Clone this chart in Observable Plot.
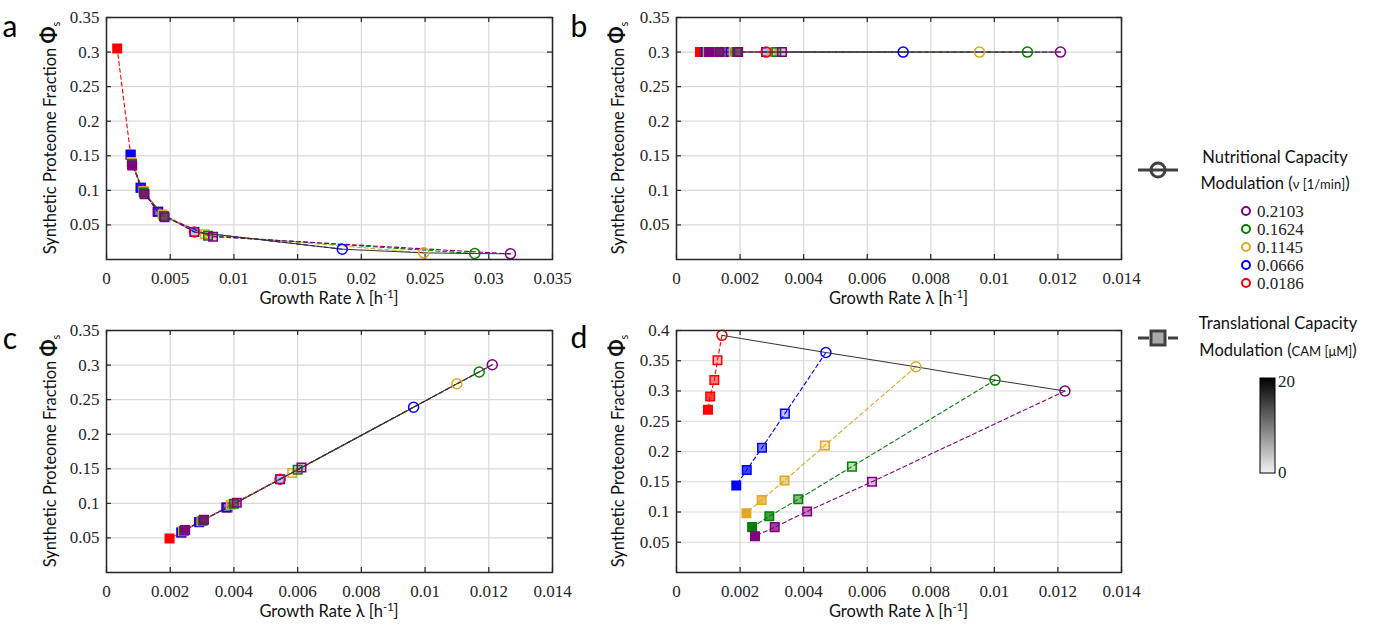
<!DOCTYPE html>
<html><head><meta charset="utf-8">
<script src="https://cdn.jsdelivr.net/npm/d3@7"></script>
<script src="https://cdn.jsdelivr.net/npm/@observablehq/plot@0.6"></script>
<style>
body{margin:0;background:#fff;}
#root{position:relative;width:1381px;height:628px;overflow:hidden;background:#fff;}
#root svg{position:absolute;}
</style></head><body><div id="root"></div>
<script>
// ---------- data ----------
const nutrientLabels = ["0.0186","0.0666","0.1145","0.1624","0.2103"];
const nutrientColors = ["#ff0000","#0000ff","#e3a822","#008000","#800080"];
const camLevels = [0,5,10,15,20];
const camRange = [0,20];

// panel a  (rows: nutrient; cols: CAM level)
const aLambda = [
 [0.0069,0.0040,0.0027,0.0019,0.00084],
 [0.0185,0.0069,0.00406,0.00267,0.00189],
 [0.0249,0.0077,0.0044,0.0029,0.00197],
 [0.0289,0.00797,0.0045,0.00293,0.0020],
 [0.0317,0.00836,0.00456,0.00299,0.00202]];
const aPhi = [
 [0.0398,0.069,0.1036,0.151,0.305],
 [0.0149,0.0398,0.069,0.1036,0.1517],
 [0.0096,0.0364,0.065,0.099,0.141],
 [0.0086,0.0344,0.063,0.097,0.138],
 [0.0082,0.033,0.061,0.0945,0.136]];
// panel b
const bLambda = [
 [0.00282,0.0017,0.0012,0.00095,0.00074],
 [0.00713,0.00282,0.0017,0.0012,0.00092],
 [0.00953,0.0030,0.0018,0.0013,0.00098],
 [0.01104,0.00314,0.0019,0.00135,0.00102],
 [0.01208,0.00332,0.00194,0.00136,0.00103]];
const bPhi = [
 [0.3,0.3,0.3,0.3,0.3],
 [0.3,0.3,0.3,0.3,0.3],
 [0.3,0.3,0.3,0.3,0.3],
 [0.3,0.3,0.3,0.3,0.3],
 [0.3,0.3,0.3,0.3,0.3]];
// panel c
const cLambda = [
 [0.00545,0.0038,0.0029,0.00235,0.00198],
 [0.00964,0.00545,0.00376,0.00291,0.00235],
 [0.0110,0.00583,0.0039,0.00298,0.0024],
 [0.0117,0.0060,0.0040,0.00302,0.00243],
 [0.01211,0.00612,0.00409,0.00306,0.00247]];
const cPhi = [
 [0.135,0.094,0.073,0.058,0.049],
 [0.239,0.135,0.094,0.0726,0.058],
 [0.273,0.144,0.098,0.074,0.0598],
 [0.290,0.1486,0.0995,0.075,0.0605],
 [0.3005,0.152,0.101,0.0764,0.0615]];
// panel d
const dLambda = [
 [0.00143,0.00129,0.00119,0.00106,0.00099],
 [0.0047,0.00341,0.00269,0.00221,0.00188],
 [0.00753,0.00467,0.0034,0.00268,0.0022],
 [0.01002,0.00552,0.00383,0.00292,0.00238],
 [0.01222,0.00615,0.00411,0.00309,0.00247]];
const dPhi = [
 [0.392,0.351,0.318,0.291,0.269],
 [0.3636,0.2626,0.2063,0.1694,0.144],
 [0.340,0.210,0.152,0.120,0.098],
 [0.318,0.175,0.121,0.093,0.075],
 [0.300,0.150,0.101,0.075,0.060]];

// ticks
const xTicksWide = [0,0.005,0.01,0.015,0.02,0.025,0.03,0.035];
const xLabelsWide = ["0","0.005","0.01","0.015","0.02","0.025","0.03","0.035"];
const xTicksNarrow = [0,0.002,0.004,0.006,0.008,0.01,0.012,0.014];
const xLabelsNarrow = ["0","0.002","0.004","0.006","0.008","0.01","0.012","0.014"];
const yTicks35 = [0.05,0.1,0.15,0.2,0.25,0.3,0.35];
const yLabels35 = ["0.05","0.1","0.15","0.2","0.25","0.3","0.35"];
const yTicks40 = [0.05,0.1,0.15,0.2,0.25,0.3,0.35,0.4];
const yLabels40 = ["0.05","0.1","0.15","0.2","0.25","0.3","0.35","0.4"];

// ---------- drawing ----------
const root = document.getElementById("root");
const SERIF = "'Liberation Serif',serif";
const SANS = "Lato";

function rowsFrom(L, P) {
  const rows = [];
  L.forEach((arr, i) => arr.forEach((lam, j) => rows.push({
    nut: i, cam: camLevels[j], lam, phi: P[i][j], color: nutrientColors[i]
  })));
  return rows;
}

function panel(cfg) {
  const {left, top, width, height, m, xDomain, yDomain, xTicks, xLabels, yTicks, yLabels, L, P, letter, letterPos, yLabX} = cfg;
  const fw = width - m.left - m.right, fh = height - m.top - m.bottom;
  const rows = rowsFrom(L, P);
  const squares = rows.filter(d => d.cam > 0);
  const circles = rows.filter(d => d.cam === 0);
  const tick = "#262626";
  const svg = Plot.plot({
    width, height,
    marginLeft: m.left, marginRight: m.right, marginTop: m.top, marginBottom: m.bottom,
    x: {domain: xDomain},
    y: {domain: yDomain},
    color: {type: "identity"},
    opacity: {type: "identity"},
    style: {fontFamily: SERIF, fontSize: "17px", color: "#262626", background: "transparent", overflow: "visible"},
    marks: [
      Plot.gridX(xTicks, {stroke: "#d9d9d9", strokeOpacity: 1, strokeWidth: 1.2}),
      Plot.gridY(yTicks, {stroke: "#d9d9d9", strokeOpacity: 1, strokeWidth: 1.2}),
      Plot.tickX(xTicks, {x: d => d, insetTop: fh - 5, stroke: tick, strokeWidth: 1.2}),
      Plot.tickX(xTicks, {x: d => d, insetBottom: fh - 5, stroke: tick, strokeWidth: 1.2}),
      Plot.tickY(yTicks, {y: d => d, insetRight: fw - 5, stroke: tick, strokeWidth: 1.2}),
      Plot.tickY(yTicks, {y: d => d, insetLeft: fw - 5, stroke: tick, strokeWidth: 1.2}),
      Plot.axisX(xTicks, {tickSize: 0, tickPadding: 12, label: null, tickFormat: d => xLabels[xTicks.indexOf(d)],
        fill: "#262626", fontSize: 17, fontFamily: SERIF}),
      Plot.axisY(yTicks, {tickSize: 0, tickPadding: 7, label: null, tickFormat: d => yLabels[yTicks.indexOf(d)],
        fill: "#262626", fontSize: 17, fontFamily: SERIF}),
      Plot.line(rows, {x: "lam", y: "phi", z: "nut", stroke: "color", strokeWidth: 1.1, strokeDasharray: "4,3"}),
      Plot.dot(squares, {x: "lam", y: "phi", symbol: "square", r: 4.8, fill: "color",
        fillOpacity: d => d.cam / camRange[1], stroke: "color", strokeWidth: 1.5}),
      Plot.line(circles, {x: "lam", y: "phi", stroke: "#333333", strokeWidth: 1}),
      Plot.dot(circles, {x: "lam", y: "phi", r: 5, fill: "none", stroke: "color", strokeWidth: 1.5}),
      Plot.frame({stroke: "#262626", strokeWidth: 1.5})
    ]
  });
  svg.style.left = left + "px";
  svg.style.top = top + "px";
  const s = d3.select(svg);
  // x label
  s.append("text")
    .attr("x", m.left + fw / 2).attr("y", m.top + fh + 45)
    .attr("text-anchor", "middle").attr("font-family", SANS).attr("font-size", 16.5).attr("fill", "#111")
    .html('Growth Rate λ [h<tspan dy="-6" font-size="11">-1</tspan><tspan dy="6">]</tspan>');
  // y label
  s.append("text")
    .attr("transform", `translate(${yLabX},${m.top + fh / 2}) rotate(-90)`)
    .attr("text-anchor", "middle").attr("font-family", SANS).attr("font-size", 16.5).attr("fill", "#111")
    .html('Synthetic Proteome Fraction <tspan font-weight="bold" font-size="20">Φ</tspan><tspan font-size="11" dy="4">s</tspan>');
  // panel letter
  s.append("text").attr("x", letterPos[0]).attr("y", letterPos[1])
    .attr("font-family", SANS).attr("font-size", 30).attr("fill", "#000").text(letter);
  root.appendChild(svg);
}

panel({left: 0, top: 0, width: 565, height: 313, m: {top: 17, right: 13, bottom: 54, left: 106},
  xDomain: [0, 0.035], yDomain: [0, 0.35], xTicks: xTicksWide, xLabels: xLabelsWide,
  yTicks: yTicks35, yLabels: yLabels35, L: aLambda, P: aPhi, letter: "a", letterPos: [10, 37], yLabX: 56});
panel({left: 565, top: 0, width: 570, height: 313, m: {top: 17, right: 14, bottom: 54, left: 111},
  xDomain: [0, 0.014], yDomain: [0, 0.35], xTicks: xTicksNarrow, xLabels: xLabelsNarrow,
  yTicks: yTicks35, yLabels: yLabels35, L: bLambda, P: bPhi, letter: "b", letterPos: [14, 37], yLabX: 59});
panel({left: 0, top: 313, width: 565, height: 315, m: {top: 17, right: 13, bottom: 56, left: 106},
  xDomain: [0, 0.014], yDomain: [0, 0.35], xTicks: xTicksNarrow, xLabels: xLabelsNarrow,
  yTicks: yTicks35, yLabels: yLabels35, L: cLambda, P: cPhi, letter: "c", letterPos: [10, 36], yLabX: 56});
panel({left: 565, top: 313, width: 570, height: 315, m: {top: 17, right: 14, bottom: 56, left: 111},
  xDomain: [0, 0.014], yDomain: [0, 0.4], xTicks: xTicksNarrow, xLabels: xLabelsNarrow,
  yTicks: yTicks40, yLabels: yLabels40, L: dLambda, P: dPhi, letter: "d", letterPos: [14, 35], yLabX: 59});

// ---------- legend ----------
const lg = d3.select(root).append("svg").attr("width", 246).attr("height", 628)
  .style("left", "1135px").style("top", "0px");
const icon = "#404040";
lg.append("line").attr("x1", 3).attr("x2", 43).attr("y1", 170).attr("y2", 170).attr("stroke", icon).attr("stroke-width", 3);
lg.append("circle").attr("cx", 23).attr("cy", 170).attr("r", 7).attr("fill", "none").attr("stroke", icon).attr("stroke-width", 3);
lg.append("text").attr("x", 140).attr("y", 163).attr("text-anchor", "middle").attr("font-family", SANS).attr("font-size", 16.5).attr("fill", "#111").text("Nutritional Capacity");
lg.append("text").attr("x", 140).attr("y", 189).attr("text-anchor", "middle").attr("font-family", SANS).attr("font-size", 16.5).attr("fill", "#111")
  .html('Modulation (<tspan font-size="13">ν [1/min]</tspan>)');
const order = [4, 3, 2, 1, 0];
order.forEach((i, k) => {
  const y = 211 + k * 18;
  lg.append("circle").attr("cx", 111).attr("cy", y).attr("r", 4).attr("fill", "none").attr("stroke", nutrientColors[i]).attr("stroke-width", 2);
  lg.append("text").attr("x", 122).attr("y", y + 5.5).attr("font-family", SERIF).attr("font-size", 17).attr("fill", "#222").text(nutrientLabels[i]);
});
lg.append("line").attr("x1", 3).attr("x2", 43).attr("y1", 338).attr("y2", 338).attr("stroke", icon).attr("stroke-width", 3).attr("stroke-dasharray", "11,4");
lg.append("rect").attr("x", 16).attr("y", 331).attr("width", 14).attr("height", 14).attr("fill", "#aaaaaa").attr("stroke", icon).attr("stroke-width", 3);
lg.append("text").attr("x", 143).attr("y", 329).attr("text-anchor", "middle").attr("font-family", SANS).attr("font-size", 16.5).attr("fill", "#111").text("Translational Capacity");
lg.append("text").attr("x", 143).attr("y", 356).attr("text-anchor", "middle").attr("font-family", SANS).attr("font-size", 16.5).attr("fill", "#111")
  .html('Modulation (<tspan font-size="13">CAM [μM]</tspan>)');
const grad = lg.append("defs").append("linearGradient").attr("id", "camgrad").attr("x1", 0).attr("x2", 0).attr("y1", 0).attr("y2", 1);
grad.append("stop").attr("offset", "0%").attr("stop-color", "#000");
grad.append("stop").attr("offset", "100%").attr("stop-color", "#f2f2f2");
lg.append("rect").attr("x", 125).attr("y", 378).attr("width", 15).attr("height", 95).attr("fill", "url(#camgrad)").attr("stroke", "#000").attr("stroke-width", 1);
lg.append("text").attr("x", 143).attr("y", 387).attr("font-family", SERIF).attr("font-size", 17).attr("fill", "#222").text(String(camRange[1]));
lg.append("text").attr("x", 143).attr("y", 478).attr("font-family", SERIF).attr("font-size", 17).attr("fill", "#222").text(String(camRange[0]));
</script></body></html>
